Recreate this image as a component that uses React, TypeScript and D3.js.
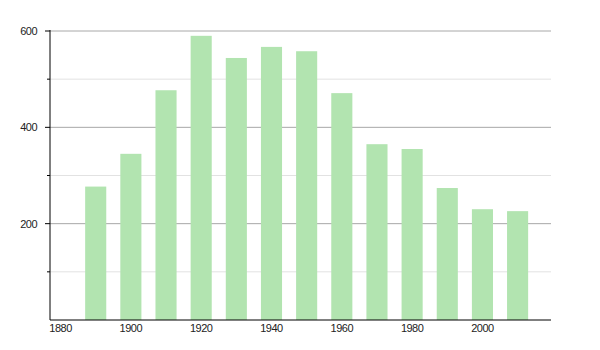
import React from "react";
import * as d3 from "d3";

const years = [1890, 1900, 1910, 1920, 1930, 1940, 1950, 1960, 1970, 1980, 1990, 2000, 2010];
const values = [277, 345, 477, 590, 544, 567, 558, 471, 365, 355, 274, 230, 226];
const xTicks = [1880, 1900, 1920, 1940, 1960, 1980, 2000];
const yMajorTicks = [200, 400, 600];
const yMinorTicks = [100, 300, 500];

export default function App() {
  const W = 600, H = 350;
  const left = 50, right = 551, top = 31, bottom = 320;
  const x = d3.scaleLinear().domain([1877, 2019.5]).range([left, right]);
  const y = d3.scaleLinear().domain([0, 600]).range([bottom, top]);
  const barW = x(1886) - x(1880);
  const font = "Liberation Sans, Arial, Helvetica, sans-serif";
  return (
    <svg width={W} height={H} style={{ position: "absolute", left: 0, top: 0 }}>
      <rect width={W} height={H} fill="#fff" />
      {yMinorTicks.map((t) => (
        <line key={"mg" + t} x1={left} x2={right} y1={y(t)} y2={y(t)} stroke="#e2e2e2" strokeWidth={1} />
      ))}
      {yMajorTicks.map((t) => (
        <line key={"Mg" + t} x1={left} x2={right} y1={y(t)} y2={y(t)} stroke="#a8a8a8" strokeWidth={1} />
      ))}
      {years.map((yr, i) => (
        <rect key={yr} x={x(yr) - barW / 2} y={y(values[i])} width={barW} height={bottom - y(values[i])} fill="#b2e4b0" />
      ))}
      <line x1={left} x2={left} y1={top - 1} y2={bottom} stroke="#000" strokeWidth={1} />
      <line x1={left} x2={right} y1={bottom} y2={bottom} stroke="#000" strokeWidth={1} />
      {yMajorTicks.map((t) => (
        <g key={"yt" + t}>
          <line x1={left - 5} x2={left} y1={y(t)} y2={y(t)} stroke="#000" />
          <text x={37} y={y(t)} dy="0.35em" textAnchor="end" fontSize={11} letterSpacing={-0.5} fill="#222" fontFamily={font}>{t}</text>
        </g>
      ))}
      {yMinorTicks.map((t) => (
        <line key={"ymt" + t} x1={left - 3} x2={left} y1={y(t)} y2={y(t)} stroke="#000" />
      ))}
      {xTicks.map((t) => (
        <text key={"xt" + t} x={x(t)} y={332} textAnchor="middle" fontSize={11} letterSpacing={-0.5} fill="#222" fontFamily={font}>{t}</text>
      ))}
    </svg>
  );
}
